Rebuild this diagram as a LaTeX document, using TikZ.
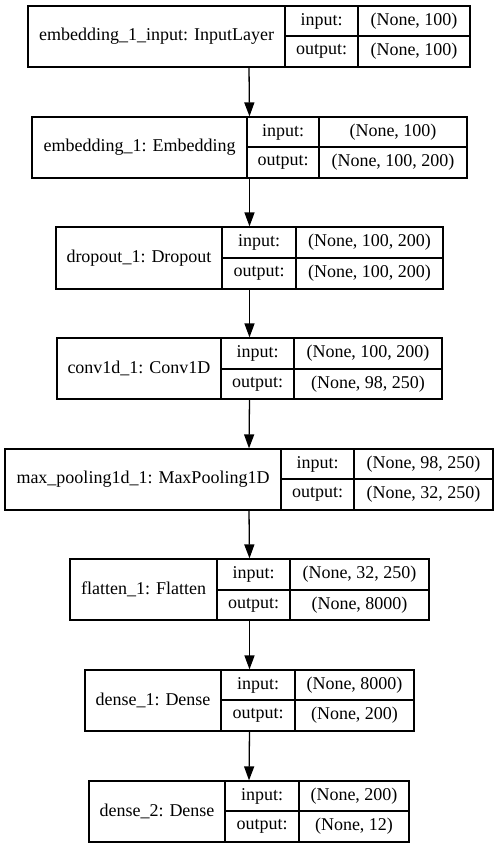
\documentclass[tikz,border=0pt]{standalone}
\usepackage{fontspec}
\setmainfont{Liberation Serif}
\usetikzlibrary{arrows.meta}
\tikzset{
  layerbox/.style={draw, line width=1.3pt, inner sep=0pt, outer sep=0pt},
  cell/.style={draw, line width=1.3pt, inner sep=0pt, outer sep=0pt, anchor=north west, font=\fontsize{18}{22}\selectfont},
  flow/.style={line width=1.3pt, -{Triangle[length=14pt 0 0,width'=10pt 0 0]}, shorten >=0.6pt}
}
\def\mygeom#1,#2,#3,#4,#5,#6,#7\relax{%
  \def\gT{#1}\def\gL{#2}\def\gA{#3}\def\gB{#4}\def\gR{#5}\def\gM{#6}\def\gD{#7}}
% \mylayer{id}{top,left,d1,d2,right,mid,bottom}{name}{in}{out}
\newcommand{\mylayer}[5]{%
  \mygeom#2\relax
  \pgfmathsetmacro{\gWall}{\gR-\gL}\pgfmathsetmacro{\gHall}{\gD-\gT}%
  \pgfmathsetmacro{\gcx}{(\gL+\gR)/2}\pgfmathsetmacro{\gcy}{-(\gT+\gD)/2}%
  \pgfmathsetmacro{\gwn}{\gA-\gL}\pgfmathsetmacro{\gwi}{\gB-\gA}\pgfmathsetmacro{\gwv}{\gR-\gB}%
  \pgfmathsetmacro{\ghtop}{\gM-\gT}\pgfmathsetmacro{\ghbot}{\gD-\gM}%
  \node[layerbox, minimum width=\gWall pt, minimum height=\gHall pt] (#1) at (\gcx,\gcy) {};
  \node[cell, minimum width=\gwn pt, minimum height=\gHall pt] (#1-n) at (\gL,-\gT) {#3};
  \node[cell, minimum width=\gwi pt, minimum height=\ghtop pt] (#1-i) at (\gA,-\gT) {input:};
  \node[cell, minimum width=\gwv pt, minimum height=\ghtop pt] (#1-iv) at (\gB,-\gT) {#4};
  \node[cell, minimum width=\gwi pt, minimum height=\ghbot pt] (#1-o) at (\gA,-\gM) {output:};
  \node[cell, minimum width=\gwv pt, minimum height=\ghbot pt] (#1-ov) at (\gB,-\gM) {#5};
}
\begin{document}
\begin{tikzpicture}[x=1pt,y=1pt]
\useasboundingbox (0,0) rectangle (499,-848);
\mylayer{l1}{6,28,285,358,470,36,67}{embedding\_1\_input: InputLayer}{(None, 100)}{(None, 100)}
\mylayer{l2}{117,32,247,319,467,147,178}{embedding\_1: Embedding}{(None, 100)}{(None, 100, 200)}
\mylayer{l3}{227,56,222,296,443,258,289}{dropout\_1: Dropout}{(None, 100, 200)}{(None, 100, 200)}
\mylayer{l4}{338,57,221,294,442,369,399}{conv1d\_1: Conv1D}{(None, 100, 200)}{(None, 98, 250)}
\mylayer{l5}{449,5,281,354,493,479,510}{max\_pooling1d\_1: MaxPooling1D}{(None, 98, 250)}{(None, 32, 250)}
\mylayer{l6}{559,70,217,290,429,590,620}{flatten\_1: Flatten}{(None, 32, 250)}{(None, 8000)}
\mylayer{l7}{670,85,221,295,414,700,731}{dense\_1: Dense}{(None, 8000)}{(None, 200)}
\mylayer{l8}{781,89,225,299,409,811,842}{dense\_2: Dense}{(None, 200)}{(None, 12)}
\draw[flow] (l1.south) -- (l2.north);
\draw[flow] (l2.south) -- (l3.north);
\draw[flow] (l3.south) -- (l4.north);
\draw[flow] (l4.south) -- (l5.north);
\draw[flow] (l5.south) -- (l6.north);
\draw[flow] (l6.south) -- (l7.north);
\draw[flow] (l7.south) -- (l8.north);
\end{tikzpicture}
\end{document}
